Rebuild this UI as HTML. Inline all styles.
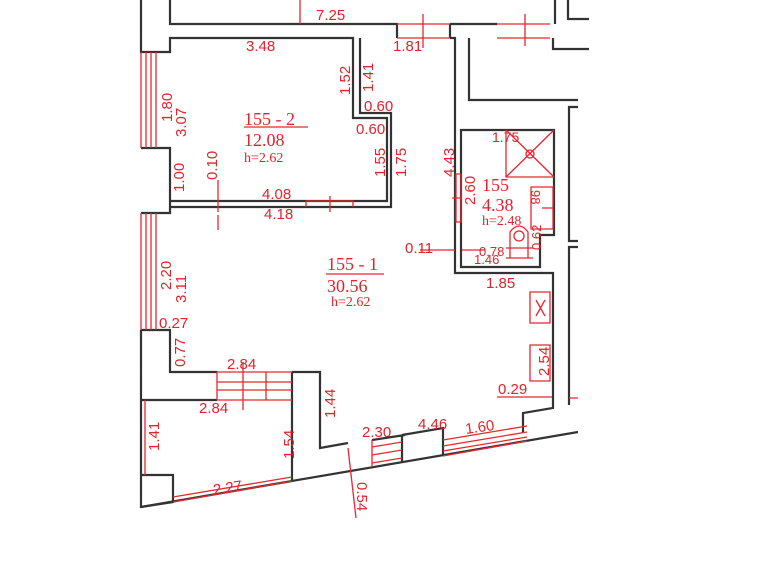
<!DOCTYPE html>
<html><head><meta charset="utf-8"><style>
html,body{margin:0;padding:0;background:#fff;width:772px;height:561px;overflow:hidden}
svg{display:block}
.w{stroke:#333;stroke-width:2.2;fill:none}
.r{stroke:#e8262e;stroke-width:1.3;fill:none}
text{font-family:"Liberation Sans",sans-serif;fill:#e3232b;font-size:15px}
.s{font-family:"Liberation Serif",serif;font-size:18px}
.h{font-family:"Liberation Serif",serif;font-size:14px}
</style></head><body>
<svg width="772" height="561" viewBox="0 0 772 561">
<g class="w">
<path d="M141 0V52H170V38H353V118H387V201H170"/>
<path d="M170 0V24H397V38"/>
<path d="M360 38V113H391V207H170"/>
<path d="M141 148H170V213H141"/>
<path d="M450 24H497M450 24V38M450 38H455V273H553V408L523 413V433"/>
<path d="M469 38V100H578"/>
<path d="M555 0V24M553 38V49H589M568 0V19H589"/>
<path d="M578 107H569V241H578M578 247H569V405"/>
<path d="M461 130H554V235H540V267H461Z"/>
<path d="M141 330H170V372H217M141 330V507L173 502V475H141"/>
<path d="M292 372H320V448L348 443M292 372V481L578 432"/>
<path d="M141 400H217"/>
<path d="M372 440L405 435M402 435V462M402 435L443 428V456"/>
<path d="M141 507L292 481"/>
</g>
<g class="r">
<path d="M300 0V24M397 24H450M397 38H450M497 24H550M497 38H550M423 14V48M525 14V46"/>
<path d="M141 52V148M146 52V148M151 52V148M156 52V148"/>
<path d="M141 213V330M146 213V330M151 213V330M156 213V330"/>
<path d="M306 201V207M306 201H353V207M330 196V212"/>
<path d="M218 180V212M218 215V230"/>
<path d="M217 372V400M217 372H292M217 382H292M217 390H292M217 400H292M243 362V410M266 372V400"/>
<path d="M145 400V475"/>
<path d="M173 497L292 477M173 502L292 481"/>
<path d="M372 447L402 442M372 455L402 450M372 463L402 458M372 440V467"/>
<path d="M443 440L527 426M443 446L527 432M443 451L527 437M443 456L527 441"/>
<path d="M348 448L356 518"/>
<path d="M456 174H461V222H456ZM452 198H462"/>
<path d="M420 250H455M462 250H485"/>
<path d="M506 130V177H554M506 130L554 177M554 130L506 177"/>
<circle cx="530" cy="154" r="4"/>
<path d="M531 187H553V229H531ZM542 208H553"/>
<circle cx="519" cy="236" r="5"/>
<path d="M510 232Q519 220 528 232V258H510ZM506 248H533M506 258H533"/>
<path d="M530 292H550V323H530ZM536 300L545 316M545 300L536 316"/>
<path d="M530 345H550V381H530Z"/>
<path d="M497 397H552M569 398H578"/>
<path d="M244 127H308M326 274H384"/>
</g>
<text x="316" y="20">7.25</text>
<text x="246" y="51">3.48</text>
<text x="393" y="51">1.81</text>
<text transform="translate(350,95) rotate(-90)">1.52</text>
<text transform="translate(373,92) rotate(-90)">1.41</text>
<text x="364" y="111">0.60</text>
<text x="356" y="134">0.60</text>
<text transform="translate(385,177) rotate(-90)">1.55</text>
<text transform="translate(406,177) rotate(-90)">1.75</text>
<text transform="translate(172,122) rotate(-90)">1.80</text>
<text transform="translate(186,137) rotate(-90)">3.07</text>
<text transform="translate(184,192) rotate(-90)">1.00</text>
<text transform="translate(217,180) rotate(-90)">0.10</text>
<text x="262" y="199">4.08</text>
<text x="264" y="219">4.18</text>
<text class="s" x="244" y="125">155  - 2</text>
<text class="s" x="244" y="146">12.08</text>
<text class="h" x="244" y="162">h=2.62</text>
<text transform="translate(454,177) rotate(-90)">4.43</text>
<text transform="translate(475,205) rotate(-90)">2.60</text>
<text x="492" y="142" style="font-size:14px">1.75</text>
<text class="s" x="482" y="191">155</text>
<text class="s" x="482" y="211">4.38</text>
<text class="h" x="482" y="225">h=2.48</text>
<text transform="translate(531,190) rotate(90)" style="font-size:13px">98</text>
<text x="479" y="256" style="font-size:13px">0.78</text>
<text x="474" y="264" style="font-size:13px">1.46</text>
<text transform="translate(541,250) rotate(-90)" style="font-size:13px">0.62</text>
<text x="486" y="288">1.85</text>
<text x="405" y="253">0.11</text>
<text class="s" x="327" y="270">155  - 1</text>
<text class="s" x="327" y="292">30.56</text>
<text class="h" x="331" y="306">h=2.62</text>
<text transform="translate(171,290) rotate(-90)">2.20</text>
<text transform="translate(186,303) rotate(-90)">3.11</text>
<text x="159" y="328">0.27</text>
<text transform="translate(185,367) rotate(-90)">0.77</text>
<text x="227" y="369">2.84</text>
<text x="199" y="413">2.84</text>
<text transform="translate(335,418) rotate(-90)">1.44</text>
<text transform="translate(294,459) rotate(-90)">1.54</text>
<text transform="translate(159,451) rotate(-90)">1.41</text>
<text x="362" y="437">2.30</text>
<text x="418" y="429">4.46</text>
<text transform="translate(466,434) rotate(-8)">1.60</text>
<text transform="translate(214,495) rotate(-9)">2.27</text>
<text transform="translate(357,482) rotate(90)">0.54</text>
<text transform="translate(549,376) rotate(-90)">2.54</text>
<text x="498" y="394">0.29</text>
</svg>
</body></html>
